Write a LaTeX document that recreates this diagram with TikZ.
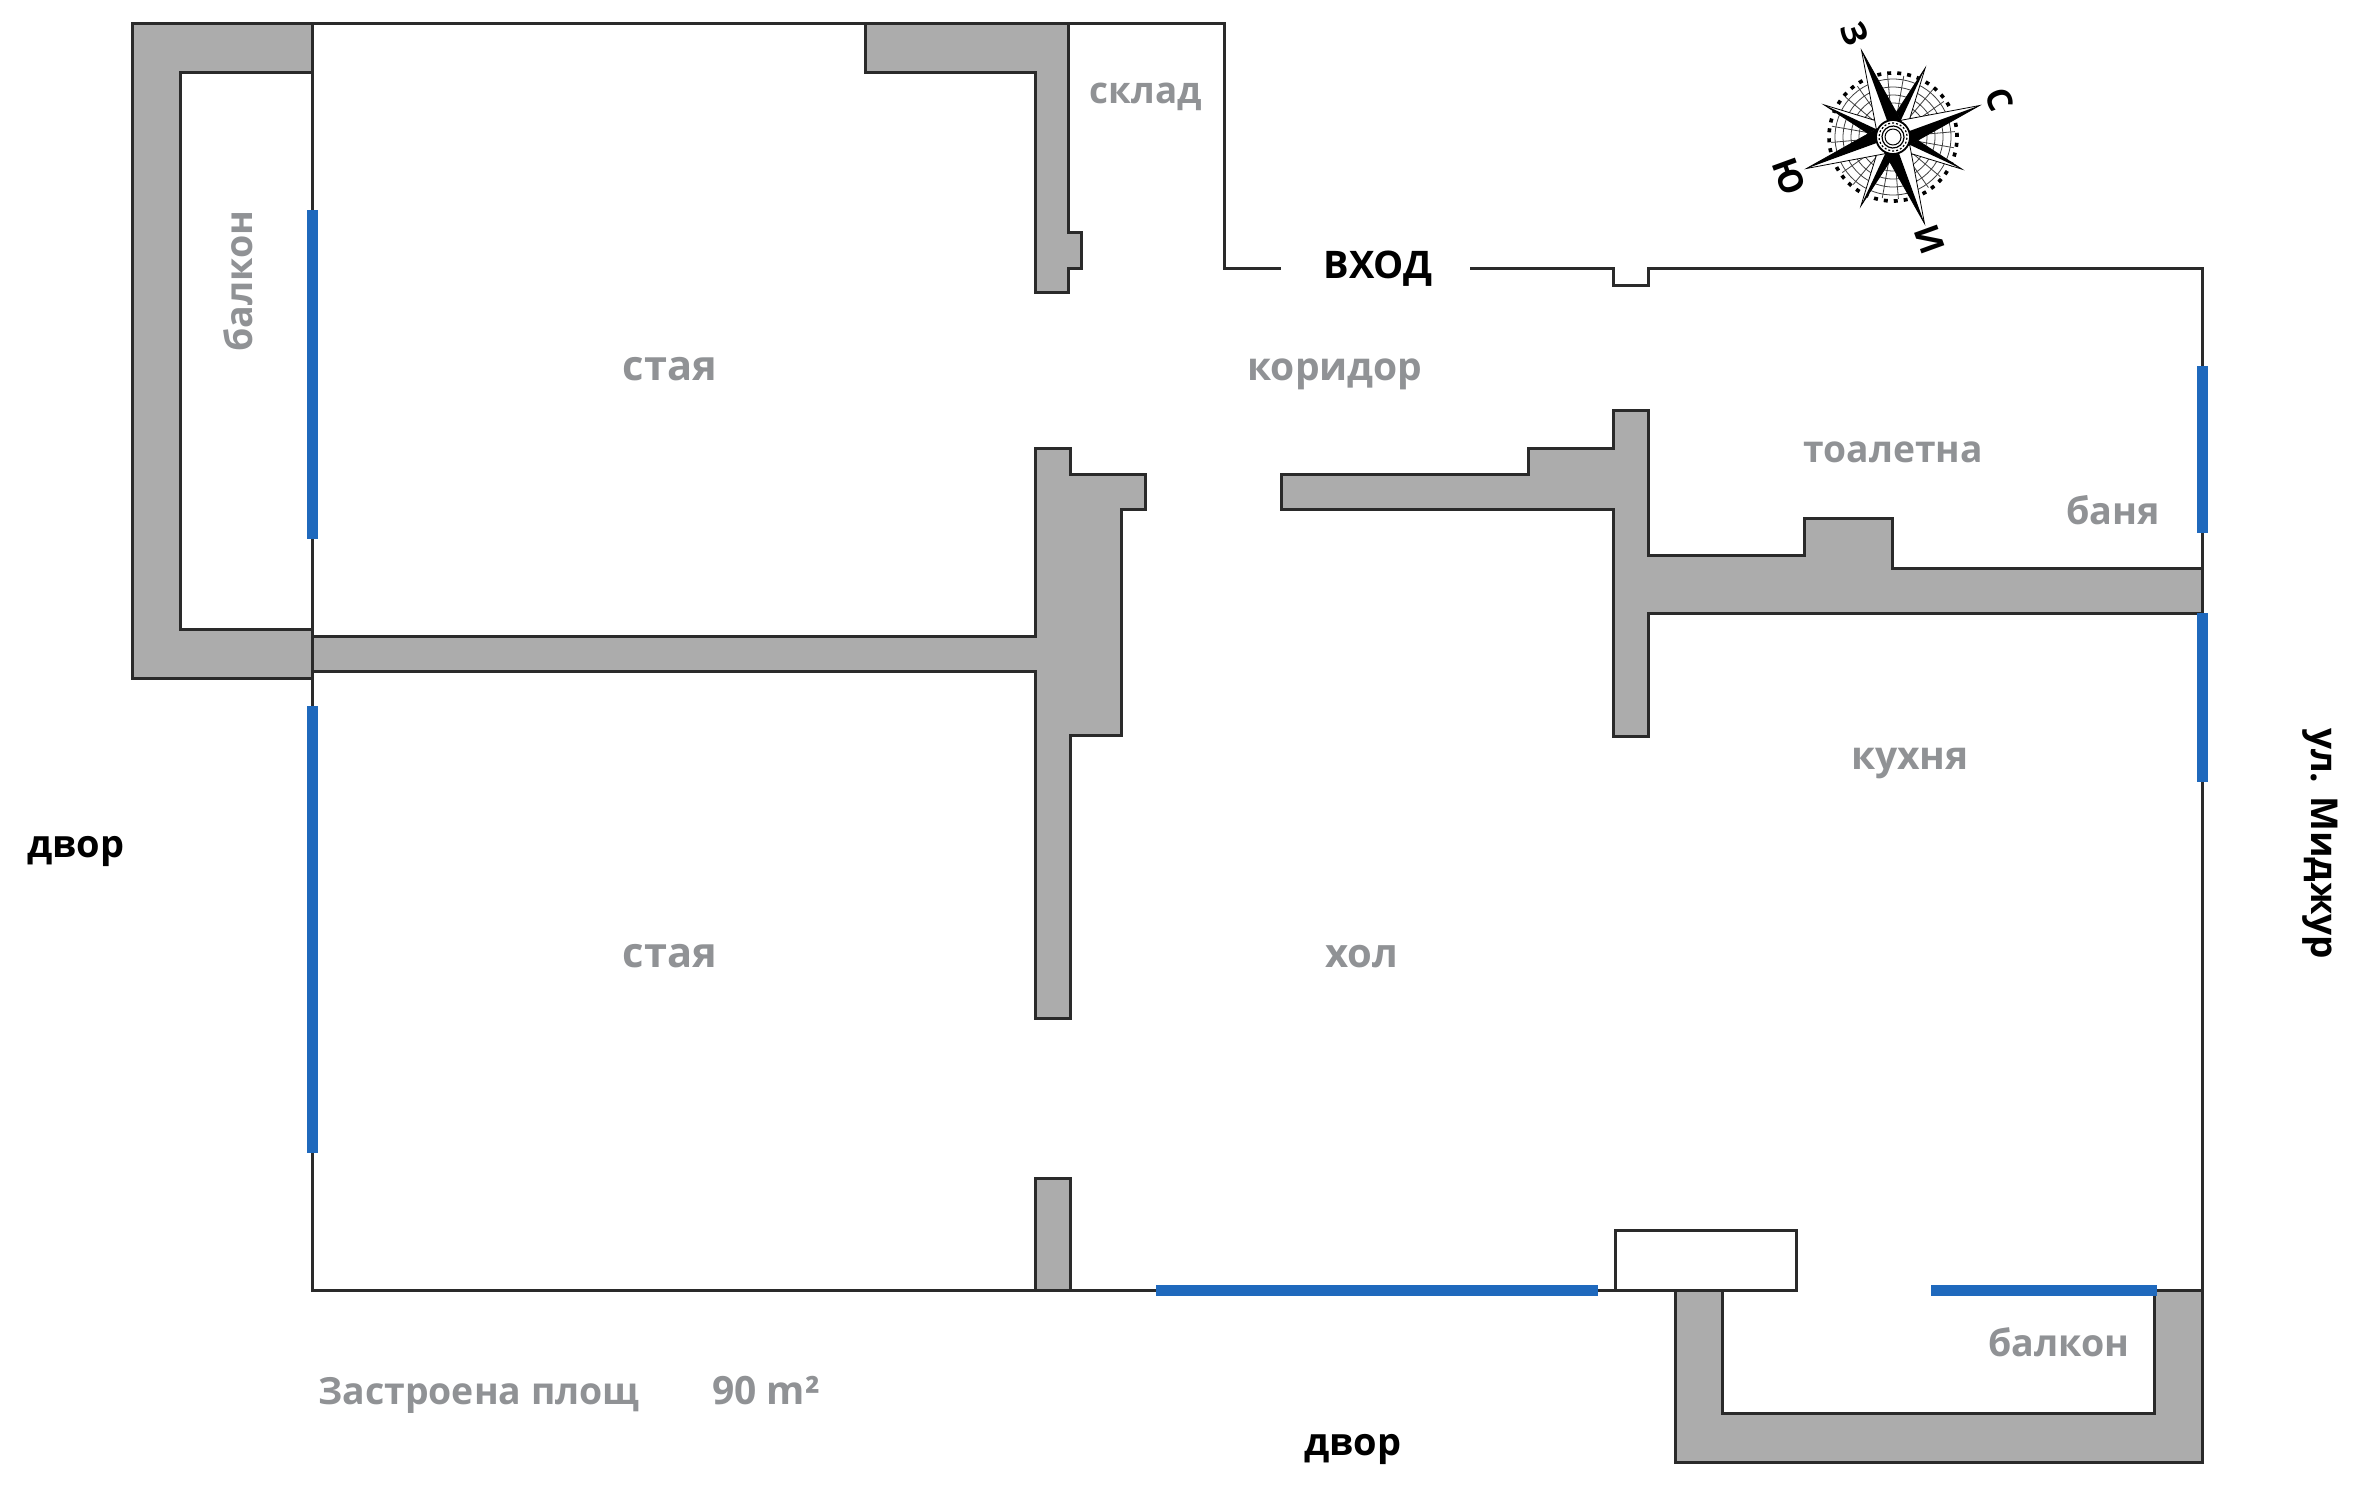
\documentclass[tikz,border=0pt]{standalone}
\usepackage{fontspec}
\setmainfont{Open Sans}
\definecolor{wallgray}{HTML}{ACACAC}
\definecolor{winblue}{HTML}{1F69BD}
\definecolor{linedark}{HTML}{2A2A2A}
\definecolor{labelgray}{HTML}{909295}
\newcommand{\fsz}[1]{\fontsize{#1}{22}\selectfont\bfseries}
\tikzset{
  wall/.style={fill=wallgray,draw=linedark,line width=1.5pt,line join=miter},
  thinwall/.style={draw=linedark,line width=1.5pt,line join=miter},
  window/.style={draw=winblue,line width=5.5pt},
  room/.style={text=labelgray,font=\fsz{19.5},inner sep=0pt,text height=10.5pt,text depth=0pt},
  outside/.style={text=black,font=\fsz{19},inner sep=0pt,text height=10.5pt,text depth=0pt},
  dirletter/.style={text=black,font=\fsz{17},inner sep=0pt},
}
\begin{document}
\begin{tikzpicture}[x=0.5pt,y=-0.5pt]
\useasboundingbox[fill=white] (0,0) rectangle (2375,1496);
% walls
\draw[wall] (132,23)--(312,23)--(312,72)--(180,72)--(180,629)--(312,629)--(312,678)--(132,678)--cycle;
\draw[wall] (865,23)--(1068,23)--(1068,232)--(1081,232)--(1081,268)--(1068,268)--(1068,292)--(1035,292)--(1035,72)--(865,72)--cycle;
\draw[wall] (312,636)--(1035,636)--(1035,448)--(1070,448)--(1070,474)--(1145,474)--(1145,509)--(1121,509)--(1121,735)--(1070,735)--(1070,1018)--(1035,1018)--(1035,671)--(312,671)--cycle;
\draw[wall] (1281,474)--(1528,474)--(1528,448)--(1613,448)--(1613,410)--(1648,410)--(1648,555)--(1804,555)--(1804,518)--(1892,518)--(1892,568)--(2202,568)--(2202,613)--(1648,613)--(1648,736)--(1613,736)--(1613,509)--(1281,509)--cycle;
\draw[wall] (1035,1178)--(1070,1178)--(1070,1290)--(1035,1290)--cycle;
\draw[wall] (1675,1290)--(1722,1290)--(1722,1413)--(2154,1413)--(2154,1290)--(2202,1290)--(2202,1462)--(1675,1462)--cycle;
\draw[thinwall] (1615,1230) rectangle (1796,1290);
% outline
\draw[thinwall] (132,23)--(1224,23)--(1224,268)--(1281,268);
\draw[thinwall] (312,72)--(312,1290)--(1675,1290);
\draw[thinwall] (1470,268)--(1613,268)--(1613,285)--(1648,285)--(1648,268)--(2202,268)--(2202,1462);
\draw[thinwall] (2154,1290)--(2202,1290);
% windows
\draw[window] (312,210)--(312,539);
\draw[window] (312,706)--(312,1153);
\draw[window] (2202,366)--(2202,533);
\draw[window] (2202,613)--(2202,782);
\draw[window] (1156,1290)--(1598,1290);
\draw[window] (1931,1290)--(2157,1290);
% labels
\node[room,font=\fsz{18.4}] (sklad) at (1146,93) {склад};
\node[room,rotate=90,font=\fsz{18.8}] (balkon1) at (242,281) {балкон};
\node[room,font=\fsz{20.8}] (staya1) at (670,370) {стая};
\node[room] (koridor) at (1335,370) {коридор};
\node[outside,text height=13.6pt] (vhod) at (1378,265) {ВХОД};
\node[room,font=\fsz{18.6}] (toaleta) at (1893,452) {тоалетна};
\node[room,font=\fsz{18.9}] (banya) at (2113,514) {баня};
\node[room] (kuhnya) at (1910,759) {кухня};
\node[room,font=\fsz{20.8}] (staya2) at (670,957) {стая};
\node[room,font=\fsz{20}] (hol) at (1362,957) {хол};
\node[outside] (dvor1) at (76,847) {двор};
\node[outside] (dvor2) at (1353,1445) {двор};
\node[room,font=\fsz{18.8}] (balkon2) at (2059,1346) {балкон};
\node[room,font=\fsz{18.7}] (zastr) at (479,1394) {Застроена площ};
\node[room] (area) at (766,1394) {90 m²};
\node[outside,rotate=-90,font=\fsz{18.5}] (ulica) at (2322,844) {ул. Миджур};
% compass
\begin{scope}[shift={(1893,137)},x=0.5pt,y=0.5pt,rotate=20]
  \begin{scope}
    \clip (0,0) circle (62);
    \foreach \r in {26,34,42,50,58}{\draw[black!75,line width=0.4pt] (0,0) circle (\r);}
    \foreach \a in {0,15,...,345}{\draw[black!75,line width=0.4pt] (0,0)--(\a:62);}
  \end{scope}
  \draw[black,line width=1.8pt,dash pattern=on 2pt off 3pt] (0,0) circle (64);
  \foreach \a in {0,90,180,270}{
    \begin{scope}[rotate=\a+45]
      \fill[white,draw=black,line width=0.4pt] (0,76)--(9,12)--(-9,12)--cycle;
      \fill[black] (0,76)--(-9,12)--(0,12)--cycle;
    \end{scope}
  }
  \foreach \a in {0,90,180,270}{
    \begin{scope}[rotate=\a]
      \fill[white,draw=black,line width=0.4pt] (0,92)--(13,13)--(-13,13)--cycle;
      \fill[black] (0,92)--(13,13)--(0,13)--cycle;
    \end{scope}
  }
  \fill[white] (0,0) circle (17);
  \draw[black,line width=0.9pt] (0,0) circle (17);
  \draw[black,line width=0.6pt,dash pattern=on 1pt off 1pt] (0,0) circle (14);
  \draw[black,line width=0.6pt] (0,0) circle (11);
  \draw[black,line width=0.5pt] (0,0) circle (8);
\end{scope}
\node[dirletter,rotate=-70] (west) at (1855,34) {З};
\node[dirletter,rotate=-70] (north) at (2000,100) {С};
\node[dirletter,rotate=-70] (south) at (1789,176) {Ю};
\node[dirletter,rotate=-70] (east) at (1930,239) {И};
\end{tikzpicture}
\end{document}
